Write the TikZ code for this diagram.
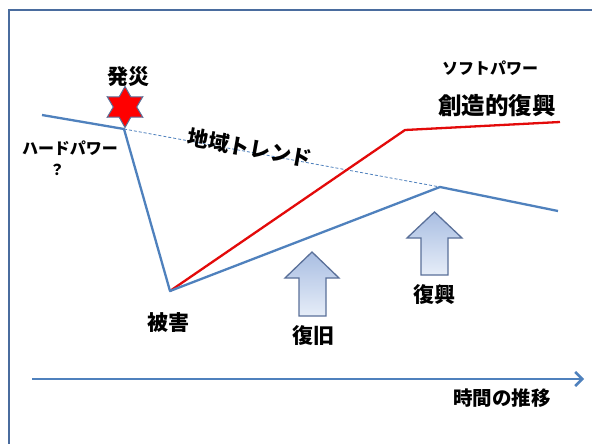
\documentclass[tikz,border=0pt]{standalone}
\usepackage{fontspec}
\setmainfont{Noto Sans CJK JP}
\usetikzlibrary{arrows.meta,shapes.geometric}
\definecolor{lineblue}{HTML}{4F81BD}
\definecolor{framebl}{HTML}{4A6C9E}
\definecolor{redline}{HTML}{E30A0A}
\definecolor{arrowtop}{HTML}{A9BEE2}
\definecolor{arrowbot}{HTML}{E6EDF8}
\definecolor{arrowedge}{HTML}{5A7099}
\tikzset{
  jlabel/.style={font=\bfseries, inner sep=0pt, text=black},
  bluel/.style={draw=lineblue, line width=2.3pt, line join=round},
  redl/.style={draw=redline, line width=2.3pt, line join=round},
  blockarrow/.style={draw=arrowedge, line width=1.3pt, top color=arrowtop, bottom color=arrowbot, line join=miter},
}
\begin{document}
\begin{tikzpicture}[x=1pt,y=-1pt]
\useasboundingbox (0,0) rectangle (592,444);
\fill[white] (0,0) rectangle (592,444);
% frame
\draw[framebl, line width=2.5pt] (9,444) -- (9,10) -- (592,10);
% coordinates
\coordinate (A) at (42,115);
\coordinate (B) at (124,129);
\coordinate (V) at (170,291);
\coordinate (P) at (440,187);
\coordinate (E) at (558,211);
\coordinate (R1) at (405,130);
\coordinate (R2) at (560,122);
\coordinate (ax1) at (32,379);
\coordinate (ax2) at (584,379);
% trend dashed
\draw[lineblue, line width=0.8pt, dash pattern=on 3pt off 2pt] (B) -- (P);
% red line
\draw[redl] (V) -- (R1) -- (R2);
% blue line
\draw[bluel] (A) -- (B) -- (V) -- (P) -- (E);
% star
\node[star, star points=6, star point ratio=1.75, minimum size=41pt, inner sep=0pt,
      fill=red, draw=arrowedge, line width=1pt] (star) at (125,107) {};
% block arrows
\path[blockarrow] (312,252) -- (339,278) -- (326,278) -- (326,316) -- (299,316) -- (299,278) -- (285,278) -- cycle;
\path[blockarrow] (434.5,212) -- (462,238) -- (448,238) -- (448,275) -- (421,275) -- (421,238) -- (407,238) -- cycle;
% axis
\draw[lineblue, line width=2.8pt, -{Straight Barb[length=7pt,width=14pt,line width=2.5pt]}] (ax1) -- (ax2);
% labels
\node[jlabel, font=\bfseries\fontsize{21}{21}\selectfont] (hassai) at (128,77) {発災};
\node[jlabel, font=\bfseries\fontsize{16}{16}\selectfont] (hard) at (70,148) {ハードパワー};
\node[jlabel, font=\bfseries\fontsize{15}{15}\selectfont] (q) at (57,170) {？};
\node[jlabel, font=\bfseries\fontsize{21}{21}\selectfont, rotate=-10] (trend) at (250,148) {地域トレンド};
\node[jlabel, font=\bfseries\fontsize{16}{16}\selectfont] (soft) at (490,68) {ソフトパワー};
\node[jlabel, font=\bfseries\fontsize{23.5}{23.5}\selectfont] (souzou) at (497,106) {創造的復興};
\node[jlabel, font=\bfseries\fontsize{21}{21}\selectfont] (higai) at (168,323) {被害};
\node[jlabel, font=\bfseries\fontsize{21}{21}\selectfont] (fukkyu) at (313,336) {復旧};
\node[jlabel, font=\bfseries\fontsize{21}{21}\selectfont] (fukkou) at (434,295) {復興};
\node[jlabel, font=\bfseries\fontsize{19.5}{19.5}\selectfont] (jikan) at (502,398) {時間の推移};
\end{tikzpicture}
\end{document}
